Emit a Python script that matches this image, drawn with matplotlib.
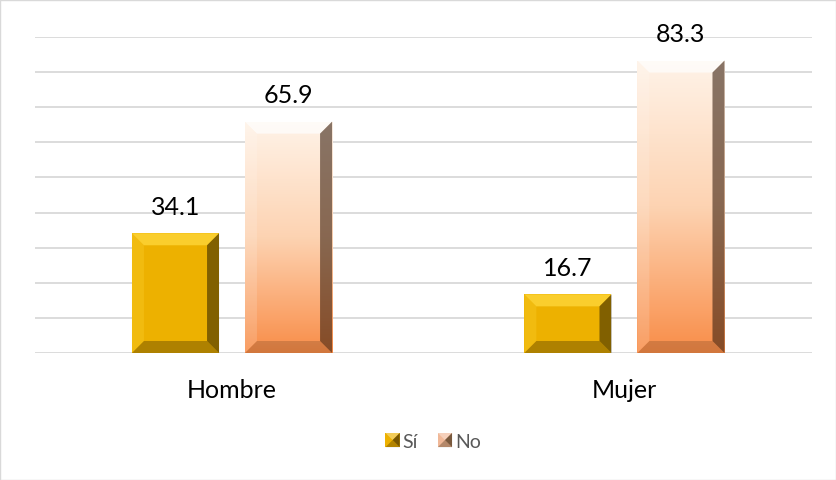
import numpy as np
import matplotlib
matplotlib.use("Agg")
import matplotlib.pyplot as plt
from matplotlib.patches import Polygon, Rectangle
from matplotlib.colors import LinearSegmentedColormap
from matplotlib.legend_handler import HandlerBase

categories = ["Hombre", "Mujer"]
series_names = ["Sí", "No"]
si_values = [34.1, 16.7]
no_values = [65.9, 83.3]

plt.rcParams['font.family'] = ['Lato', 'DejaVu Sans']

W, H = 837, 481
fig = plt.figure(figsize=(W / 100, H / 100), dpi=100)
ax_l, ax_r, ax_t, ax_b = 35, 812, 38, 354
ax = fig.add_axes([ax_l / W, 1 - ax_b / H, (ax_r - ax_l) / W, (ax_b - ax_t) / H])

ymax = 90
ax.set_ylim(0, ymax)
ax.set_xlim(-0.502, 1.478)
for y in np.arange(0, ymax + 1, 10):
    ax.axhline(y, color="#D9D9D9", lw=1.3, zorder=0)
for s in ax.spines.values():
    s.set_visible(False)
ax.set_yticks([])
ax.set_xticks(range(len(categories)))
ax.set_xticklabels(categories, fontsize=18, color="#000000")
ax.tick_params(axis='x', length=0, pad=18)

# px->data conversion
px_x = (ax.get_xlim()[1] - ax.get_xlim()[0]) / (ax_r - ax_l)
px_y = ymax / (ax_b - ax_t)

bw = 0.222
off = 0.144

gold = "#EDB100"
orange_cmap = LinearSegmentedColormap.from_list("o", ["#FFF3E8", "#FDD3B2", "#F98D48"])

def bevel(x0, x1, y0, y1, bpx=12, alphas=(0.45, 0.15, 0.5, 0.3), z=3, dark="#2a1a00", light="white"):
    bx = bpx * px_x
    by = min(bpx * px_y, (y1 - y0) / 2.5)
    top = [(x0, y1), (x1, y1), (x1 - bx, y1 - by), (x0 + bx, y1 - by)]
    bot = [(x0, y0), (x1, y0), (x1 - bx, y0 + by), (x0 + bx, y0 + by)]
    left = [(x0, y0), (x0, y1), (x0 + bx, y1 - by), (x0 + bx, y0 + by)]
    right = [(x1, y0), (x1, y1), (x1 - bx, y1 - by), (x1 - bx, y0 + by)]
    ax.add_patch(Polygon(top, closed=True, fc=light, alpha=alphas[0], lw=0, zorder=z))
    ax.add_patch(Polygon(left, closed=True, fc=light, alpha=alphas[1], lw=0, zorder=z))
    ax.add_patch(Polygon(right, closed=True, fc=dark, alpha=alphas[2], lw=0, zorder=z))
    ax.add_patch(Polygon(bot, closed=True, fc=dark, alpha=alphas[3], lw=0, zorder=z))

grad = np.linspace(0, 1, 256).reshape(-1, 1)
for i, cat in enumerate(categories):
    # Sí bar
    x0, x1 = i - off - bw / 2, i - off + bw / 2
    v = si_values[i]
    ax.bar(i - off, v, width=bw, color=gold, zorder=2, lw=0)
    bevel(x0, x1, 0, v, alphas=(0.75, 0.25, 0.6, 0.35), dark="#3a2a00", light="#FFD93D")
    ax.annotate(f"{v:.1f}", (i - off, v), xytext=(0, 11), textcoords="offset points",
                ha="center", va="bottom", fontsize=18, color="#000000")
    # No bar
    x0, x1 = i + off - bw / 2, i + off + bw / 2
    v = no_values[i]
    im = ax.imshow(grad, cmap=orange_cmap, extent=(x0, x1, 0, v), aspect='auto', zorder=2,
                   interpolation='bilinear')
    rect = Rectangle((x0, 0), bw, v, transform=ax.transData)
    im.set_clip_path(rect)
    bevel(x0, x1, 0, v, alphas=(0.7, 0.15, 0.6, 0.2), dark="#3a2010")
    ax.annotate(f"{v:.1f}", (i + off, v), xytext=(0, 11), textcoords="offset points",
                ha="center", va="bottom", fontsize=18, color="#000000")

ax.set_xlim(-0.502, 1.478)
ax.set_ylim(0, ymax)

# legend
class BevelHandler(HandlerBase):
    def __init__(self, kind):
        super().__init__()
        self.kind = kind
    def create_artists(self, legend, orig_handle, xd, yd, width, height, fontsize, trans):
        s = min(width, height) * 1.0
        x0 = xd + width - s
        y0 = yd
        arts = []
        base = gold if self.kind == "si" else "#F0B898"
        arts.append(Rectangle((x0, y0), s, s, fc=base, lw=0, transform=trans))
        cx, cy = x0 + s / 2, y0 + s / 2
        tri_top = [(x0, y0 + s), (x0 + s, y0 + s), (cx, cy)]
        tri_right = [(x0 + s, y0), (x0 + s, y0 + s), (cx, cy)]
        tri_bot = [(x0, y0), (x0 + s, y0), (cx, cy)]
        arts.append(Polygon(tri_top, fc="white", alpha=0.35, lw=0, transform=trans))
        arts.append(Polygon(tri_right, fc="#2a1a00", alpha=0.6, lw=0, transform=trans))
        arts.append(Polygon(tri_bot, fc="#2a1a00", alpha=0.3, lw=0, transform=trans))
        return arts

h_si = Rectangle((0, 0), 1, 1)
h_no = Rectangle((0, 0), 1, 1, fc="red")
leg = fig.legend([h_si, h_no], series_names, loc="center", bbox_to_anchor=(433 / W, 1 - 443 / H),
                 ncol=2, frameon=False, fontsize=14, handlelength=0.75, handleheight=0.75,
                 handletextpad=0.15, columnspacing=1.0,
                 handler_map={h_si: BevelHandler("si"), h_no: BevelHandler("no")})
for t in leg.get_texts():
    t.set_color("#595959")

# outer border
fig.patches.append(Rectangle((0.5 / W, 0.5 / H), 1 - 1.5 / W, 1 - 1.5 / H, transform=fig.transFigure,
                             fill=False, ec="#D9D9D9", lw=1))

fig.savefig("out.png", dpi=100)
